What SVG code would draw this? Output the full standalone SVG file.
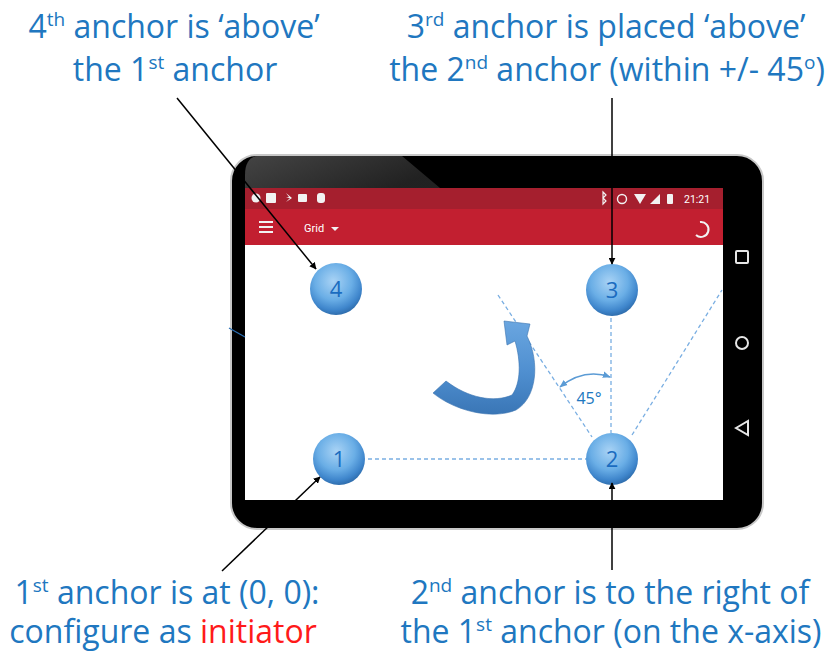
<svg xmlns="http://www.w3.org/2000/svg" width="832" height="651" viewBox="0 0 832 651">
  <defs>
    <radialGradient id="ball" cx="45%" cy="35%" r="65%">
      <stop offset="0" stop-color="#a9d3f5"/>
      <stop offset="0.55" stop-color="#6aaee6"/>
      <stop offset="0.85" stop-color="#3f86cc"/>
      <stop offset="1" stop-color="#2f6eae"/>
    </radialGradient>
    <linearGradient id="glare" x1="0" y1="0" x2="1" y2="0.4">
      <stop offset="0" stop-color="#555"/>
      <stop offset="1" stop-color="#2a2a2a"/>
    </linearGradient>
    <linearGradient id="bend" x1="0" y1="0" x2="0" y2="1">
      <stop offset="0" stop-color="#6aa6e0"/>
      <stop offset="0.55" stop-color="#4f8fd0"/>
      <stop offset="1" stop-color="#3a76b6"/>
    </linearGradient>
    <marker id="head" viewBox="0 0 10 10" refX="9" refY="5" markerWidth="7" markerHeight="7" orient="auto-start-reverse" markerUnits="userSpaceOnUse">
      <path d="M0,0 L10,5 L0,10 Z" fill="#000"/>
    </marker>
    <marker id="tick" viewBox="0 0 10 10" refX="9" refY="5" markerWidth="8" markerHeight="8" orient="auto-start-reverse" markerUnits="userSpaceOnUse">
      <path d="M0,1 L10,5 L0,9 Z" fill="#5b9bd5"/>
    </marker>
  </defs>
  <style>
    .lbl { font-family: "Open Sans", Lato, "Liberation Sans", sans-serif; font-size: 32px; fill: #2077c0; text-anchor: middle; }
    .sup { font-size: 19px; }
    .red { fill: #ff1a1a; }
    .num { font-family: "Open Sans", "Liberation Sans", sans-serif; font-size: 22px; fill: #1b6cc0; text-anchor: middle; }
    .dash { stroke: #79aee2; stroke-width: 1.3; stroke-dasharray: 4 3; fill: none; }
    .lead { stroke: #000; stroke-width: 1.5; fill: none; marker-end: url(#head); }
    .ui { font-family: Roboto, "Liberation Sans", sans-serif; fill: #fff; }
    .nav { fill: none; stroke: #e6e6e6; stroke-width: 2; }
  </style>

  <rect width="832" height="651" fill="#fff"/>

  <!-- tablet body -->
  <g id="tablet">
    <rect x="231" y="155" width="532" height="374" rx="26" fill="#000" stroke="#c8c8c8" stroke-width="2"/>
    <path d="M257,156 L402,156 L440,188 L245,188 L245,175 Q245,158 257,156 Z" fill="url(#glare)" opacity="0.8"/>
    <!-- status bar -->
    <rect x="245" y="188" width="478" height="21" fill="#a51f2e"/>
    <!-- toolbar -->
    <rect x="245" y="209" width="478" height="36" fill="#c21f30"/>
    <!-- screen -->
    <rect x="245" y="245" width="478" height="255" fill="#fff"/>
    <!-- status icons -->
    <g fill="#f2f2f2">
      <circle cx="256" cy="198" r="4.5"/>
      <rect x="266" y="193" width="10" height="10" rx="1"/>
      <path d="M286,193 l3,4 l-3,1 l4,0 l-4,4 l6,-4 z"/>
      <rect x="298" y="194" width="9" height="8" rx="1"/>
      <rect x="317" y="193" width="8" height="10" rx="3"/>
      <path d="M603,192 l3,3 l-3,3 l3,3 l-3,3 z" fill="none" stroke="#f2f2f2" stroke-width="1.2"/>
      <circle cx="622" cy="199" r="4.5" fill="none" stroke="#f2f2f2" stroke-width="1.4"/>
      <path d="M634,194 L646,194 L640,204 Z"/>
      <path d="M650,204 L660,194 L660,204 Z"/>
      <rect x="667" y="194" width="6" height="10" rx="1"/>
    </g>
    <text class="ui" x="684" y="203" font-size="10.5">21:21</text>
    <!-- toolbar content -->
    <g stroke="#f2f2f2" stroke-width="2">
      <line x1="259" y1="222" x2="273" y2="222"/>
      <line x1="259" y1="227" x2="273" y2="227"/>
      <line x1="259" y1="232" x2="273" y2="232"/>
    </g>
    <text class="ui" x="304" y="232" font-size="11">Grid</text>
    <path d="M331,227 L339,227 L335,231 Z" fill="#f2f2f2"/>
    <path d="M700,222 A7.5,7.5 0 1 1 696,235" fill="none" stroke="#f2f2f2" stroke-width="2"/>
    <!-- navigation keys -->
    <rect x="736" y="251" width="12" height="12" rx="1" class="nav"/>
    <circle cx="742" cy="343" r="6" class="nav"/>
    <path d="M736,428 L748,421 L748,435 Z" class="nav"/>
    <line x1="229" y1="328" x2="245" y2="337" stroke="#2a6fb5" stroke-width="1.2"/>
  </g>

  <!-- construction lines and rotation mark -->
  <g id="guides">
    <line class="dash" x1="368" y1="459" x2="586" y2="459"/>
    <line class="dash" x1="611" y1="318" x2="611" y2="433"/>
    <line class="dash" x1="498" y1="295" x2="592" y2="437"/>
    <line class="dash" x1="632" y1="435" x2="722" y2="290"/>
    <path d="M560,387 Q584,368 610,377" fill="none" stroke="#5b9bd5" stroke-width="1.5" marker-start="url(#tick)" marker-end="url(#tick)"/>
    <text x="589" y="404" font-family="'Open Sans', 'Liberation Sans', sans-serif" font-size="16" fill="#2077c0" text-anchor="middle">45°</text>
    <path d="M433,393 C455,411 492,420 516,410 C537,398 540,362 527,336 L530,324 L504,321 L507,345 L515,341 C521,361 521,383 512,395 C494,403 468,398 446,381 Z" fill="url(#bend)" stroke="#3a74b0" stroke-width="0.6"/>
  </g>

  <!-- anchors -->
  <g id="anchor4">
    <circle cx="336" cy="289" r="26" fill="url(#ball)"/>
    <text class="num" x="336" y="297">4</text>
  </g>
  <g id="anchor3">
    <circle cx="612" cy="290" r="26" fill="url(#ball)"/>
    <text class="num" x="612" y="298">3</text>
  </g>
  <g id="anchor1">
    <circle cx="339" cy="459" r="26" fill="url(#ball)"/>
    <text class="num" x="339" y="467">1</text>
  </g>
  <g id="anchor2">
    <circle cx="612" cy="459" r="26" fill="url(#ball)"/>
    <text class="num" x="612" y="467">2</text>
  </g>

  <!-- leader arrows -->
  <g id="connectors">
    <line class="lead" x1="177" y1="98" x2="316" y2="269"/>
    <line class="lead" x1="612" y1="98" x2="612" y2="264"/>
    <line class="lead" x1="222" y1="571" x2="320" y2="477"/>
    <line class="lead" x1="612" y1="570" x2="612" y2="483"/>
  </g>

  <!-- captions -->
  <g id="label4">
    <text class="lbl" x="174" y="38">4<tspan class="sup" dy="-12">th</tspan><tspan dy="12"> anchor is ‘above’</tspan></text>
    <text class="lbl" x="175" y="81">the 1<tspan class="sup" dy="-12">st</tspan><tspan dy="12"> anchor</tspan></text>
  </g>
  <g id="label3">
    <text class="lbl" x="606" y="38">3<tspan class="sup" dy="-12">rd</tspan><tspan dy="12"> anchor is placed ‘above’</tspan></text>
    <text class="lbl" x="607" y="81">the 2<tspan class="sup" dy="-12">nd</tspan><tspan dy="12"> anchor (within +/- 45</tspan><tspan class="sup" dy="-12">o</tspan><tspan dy="12">)</tspan></text>
  </g>
  <g id="label1">
    <text class="lbl" x="167" y="604">1<tspan class="sup" dy="-12">st</tspan><tspan dy="12"> anchor is at (0, 0):</tspan></text>
    <text class="lbl" x="163" y="643">configure as <tspan class="red">initiator</tspan></text>
  </g>
  <g id="label2">
    <text class="lbl" x="610" y="604">2<tspan class="sup" dy="-12">nd</tspan><tspan dy="12"> anchor is to the right of</tspan></text>
    <text class="lbl" x="611" y="643">the 1<tspan class="sup" dy="-12">st</tspan><tspan dy="12"> anchor (on the x-axis)</tspan></text>
  </g>
</svg>
